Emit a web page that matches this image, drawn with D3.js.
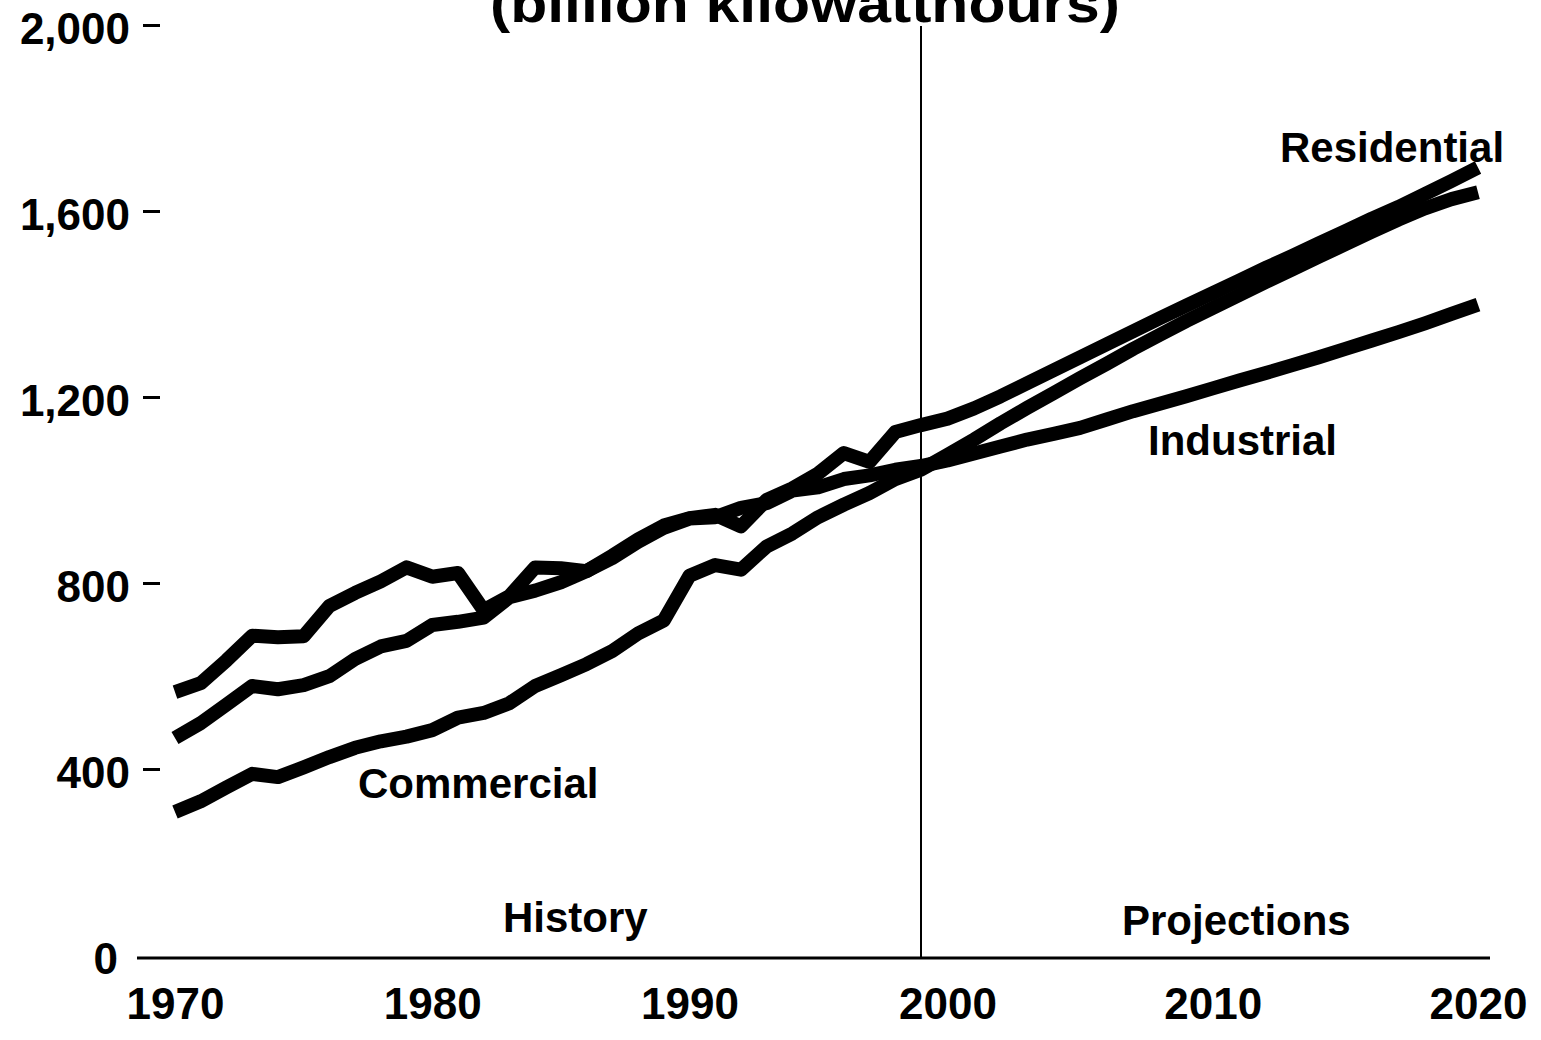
<!DOCTYPE html>
<html>
<head>
<meta charset="utf-8">
<script src="https://cdn.jsdelivr.net/npm/d3@7"></script>
<style>
  body { margin: 0; background: #fff; }
  text { font-family: "Liberation Sans", Arial, sans-serif; font-weight: bold; fill: #000; }
</style>
</head>
<body>
<script>
/* Define data. */
const years = d3.range(1970, 2021)

const residential = [
  473, 505, 545, 585, 578, 587, 606, 643, 670, 682,
  716, 723, 732, 776, 790, 808, 832, 865, 900, 930,
  946, 953, 928, 985, 1010, 1042, 1086, 1067, 1131, 1146,
  1160, 1182, 1208, 1236, 1264, 1292, 1320, 1348, 1376, 1403,
  1430, 1457, 1484, 1510, 1537, 1563, 1590, 1615, 1643, 1671, 1700
]

const commercial = [
  314, 337, 367, 396, 389, 410, 432, 452, 466, 476,
  490, 517, 527, 548, 585, 608, 632, 660, 698, 726,
  822, 845, 835, 885, 913, 948, 975, 1000, 1030, 1050,
  1082, 1115, 1150, 1183, 1215, 1247, 1278, 1310, 1340, 1370,
  1398, 1426, 1454, 1481, 1508, 1535, 1562, 1588, 1612, 1632, 1647
]

const industrial = [
  572, 591, 640, 693, 690, 692, 757, 785, 810, 840,
  820, 828, 748, 778, 840, 838, 832, 860, 895, 925,
  945, 948, 968, 978, 1005, 1012, 1030, 1038, 1050, 1058,
  1070, 1085, 1100, 1115, 1127, 1140, 1158, 1176, 1192, 1208,
  1225, 1242, 1258, 1275, 1292, 1310, 1328, 1346, 1365, 1385, 1405
]

const yTicks = [0, 400, 800, 1200, 1600, 2000]
const xTicks = [1970, 1980, 1990, 2000, 2010, 2020]
const lastHistoryYear = 1999

const series = [
  { name: "Residential", values: residential },
  { name: "Commercial", values: commercial },
  { name: "Industrial", values: industrial }
]

/* Define svg-size. */
const width = 1541
const height = 1040

const svg = d3.select("body")
  .append("svg")
  .attr("width", width)
  .attr("height", height)

/* Scales (the scan is slightly stretched after 1999). */
const x = d3.scaleLinear()
  .domain([1970, 1999, 2020])
  .range([175, 921, 1478])

const y = d3.scaleLinear()
  .domain([0, 2000])
  .range([958, 28])

/* Title, cut off at the top edge. */
svg.append("text")
  .attr("x", 805)
  .attr("y", 22)
  .attr("text-anchor", "middle")
  .attr("font-size", 54)
  .attr("textLength", 630)
  .attr("lengthAdjust", "spacingAndGlyphs")
  .text("(billion kilowatthours)")

/* Y axis. */
const yAxis = svg.append("g")
  .attr("transform", "translate(160,0)")
  .call(d3.axisLeft(y)
    .tickValues(yTicks)
    .tickFormat(d3.format(","))
    .tickSize(17)
    .tickPadding(13))

yAxis.select(".domain").remove()
yAxis.selectAll(".tick line")
  .attr("stroke", "#000")
  .attr("stroke-width", 3)
  .attr("transform", "translate(0,-3)")
  .filter(d => d === 0).remove()
yAxis.selectAll(".tick text")
  .attr("font-size", 44)
  .attr("font-family", null)
  .attr("dy", "0.36em")
yAxis.selectAll(".tick text")
  .filter(d => d === 0)
  .attr("x", -42)

/* X axis. */
const xAxis = svg.append("g")
  .attr("transform", `translate(0,${y(0)})`)
  .call(d3.axisBottom(x)
    .tickValues(xTicks)
    .tickFormat(d3.format("d"))
    .tickSize(0)
    .tickPadding(30))

xAxis.select(".domain").remove()
xAxis.selectAll(".tick text")
  .attr("font-size", 44)
  .attr("font-family", null)

svg.append("line")
  .attr("x1", 137)
  .attr("x2", 1490)
  .attr("y1", y(0))
  .attr("y2", y(0))
  .attr("stroke", "#000")
  .attr("stroke-width", 3)

/* History / projections divider. */
svg.append("line")
  .attr("x1", x(lastHistoryYear))
  .attr("x2", x(lastHistoryYear))
  .attr("y1", 26)
  .attr("y2", y(0))
  .attr("stroke", "#000")
  .attr("stroke-width", 2)

/* Lines. */
const line = d3.line()
  .x((d, i) => x(years[i]))
  .y(d => y(d))

svg.append("g")
  .selectAll("path")
  .data(series)
  .enter()
  .append("path")
  .attr("class", d => d.name)
  .attr("fill", "none")
  .attr("stroke", "#000")
  .attr("stroke-width", 14)
  .attr("stroke-linejoin", "round")
  .attr("d", d => line(d.values))

/* Labels. */
const labels = [
  { text: "Residential", x: 1280, y: 162 },
  { text: "Industrial", x: 1148, y: 455 },
  { text: "Commercial", x: 358, y: 798 },
  { text: "History", x: 503, y: 932 },
  { text: "Projections", x: 1122, y: 935 }
]

svg.append("g")
  .selectAll("text")
  .data(labels)
  .enter()
  .append("text")
  .attr("x", d => d.x)
  .attr("y", d => d.y)
  .attr("font-size", 42)
  .text(d => d.text)
</script>
</body>
</html>
